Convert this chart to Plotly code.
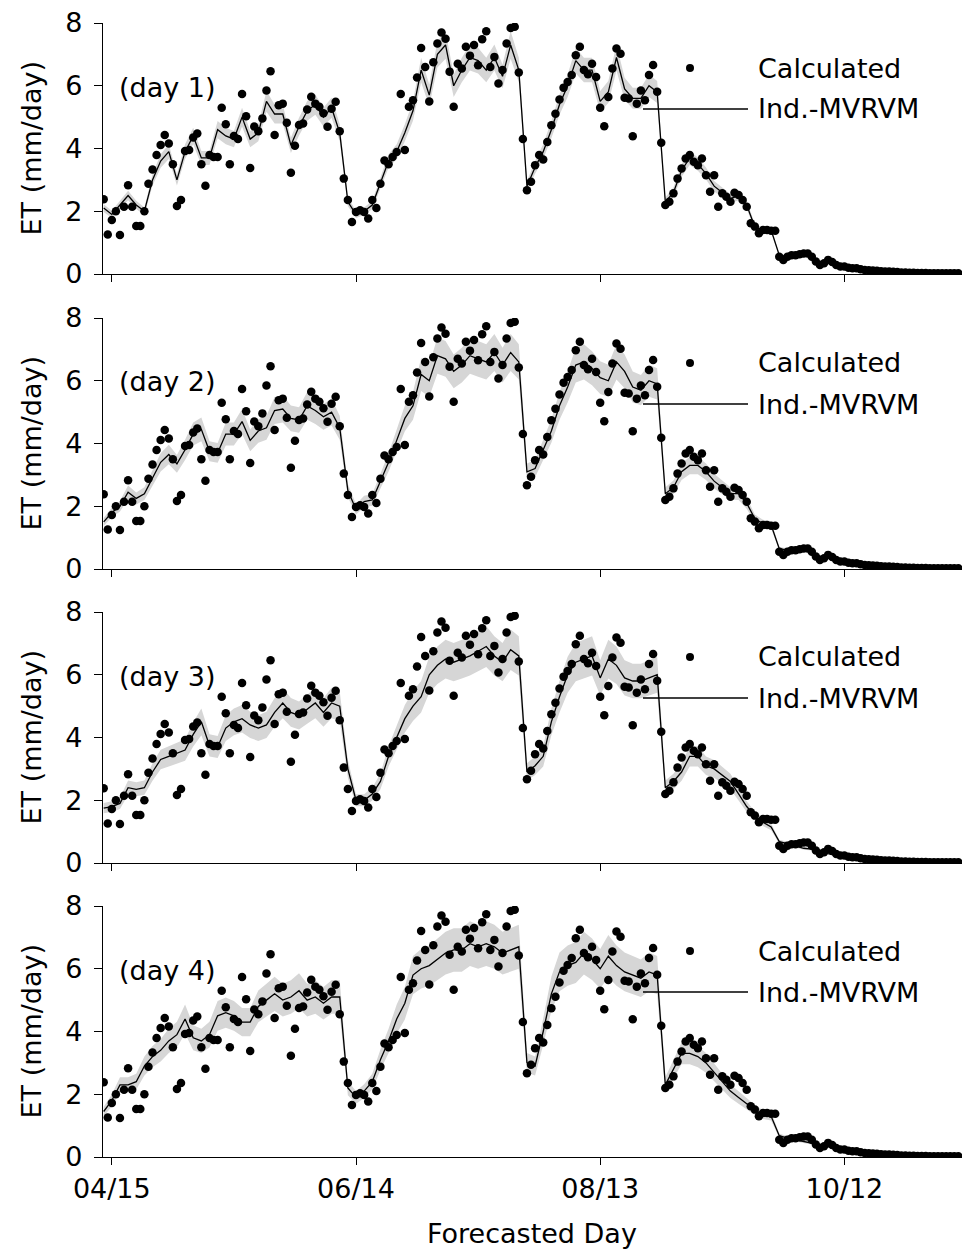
import numpy as np
import pandas as pd
import plotly.graph_objects as go

# ---------------- data ----------------
start_date = "2001-04-13"
tick_dates = ["2001-04-15", "2001-06-14", "2001-08-13", "2001-10-12"]
tick_labels = ["04/15", "06/14", "08/13", "10/12"]
y_ticks = [0, 2, 4, 6, 8]

# calculated ET (mm/day), one value per day from start_date
calculated = [
    2.38, 1.26, 1.72, 2.0, 1.24, 2.14, 2.83, 2.14, 1.53, 1.53,
    2.0, 2.88, 3.33, 3.79, 4.11, 4.43, 4.16, 3.5, 2.17, 2.36,
    3.92, 3.95, 4.35, 4.48, 3.5, 2.81, 3.79, 3.73, 3.73, 5.3,
    4.77, 3.5, 4.4, 4.3, 5.74, 5.03, 3.38, 4.7, 4.55, 4.96,
    5.85, 6.46, 4.43, 5.38, 5.43, 4.82, 3.23, 4.09, 4.75, 4.8,
    5.24, 5.65, 5.43, 5.33, 5.12, 4.69, 5.27, 5.49, 4.55, 3.04,
    2.36, 1.66, 1.98, 2.03, 1.98, 1.77, 2.36, 2.1, 2.88, 3.62,
    3.5, 3.73, 3.89, 5.74, 3.95, 5.33, 5.54, 6.26, 7.2, 6.6,
    5.5, 6.75, 7.35, 7.7, 7.5, 6.45, 5.33, 6.7, 6.55, 7.24,
    6.96, 7.3, 6.65, 7.48, 7.74, 6.6, 6.92, 6.07, 6.5, 7.35,
    7.84, 7.88, 6.42, 4.3, 2.67, 2.94, 3.47, 3.79, 3.65, 4.21,
    4.74, 5.11, 5.56, 5.94, 6.12, 6.34, 6.97, 7.24, 6.5, 6.37,
    6.7, 6.28, 5.3, 4.71, 5.64, 6.55, 7.19, 7.02, 5.62, 5.59,
    4.39, 5.43, 5.85, 5.54, 6.34, 6.66, 5.81, 4.18, 2.2, 2.3,
    2.57, 3.04, 3.36, 3.68, 3.79, 3.58, 3.47, 3.68, 3.15, 2.62,
    3.15, 2.14, 2.57, 2.46, 2.3, 2.59, 2.52, 2.36, 2.14, 1.62,
    1.51, 1.3, 1.4, 1.4, 1.38, 1.38, 0.55, 0.45, 0.55, 0.6,
    0.6, 0.63, 0.65, 0.65, 0.55, 0.4, 0.29, 0.34, 0.45, 0.38,
    0.29, 0.24, 0.24, 0.2, 0.18, 0.18, 0.15, 0.13, 0.12, 0.11,
    0.1, 0.09, 0.08, 0.08, 0.07, 0.06, 0.05, 0.05, 0.04, 0.04,
    0.03, 0.03, 0.03, 0.02, 0.02, 0.02, 0.02, 0.02, 0.02, 0.02,
    0.02,
]

# Ind.-MVRVM forecasts, one value every 2 days from start_date
pred_day1 = [
    2.1, 1.9, 2.2, 2.5, 2.2, 2.0, 3.0, 3.6, 3.9, 3.0,
    3.9, 4.4, 3.7, 3.7, 4.6, 4.4, 4.3, 5.0, 4.3, 4.5,
    5.5, 5.1, 5.1, 4.1, 4.7, 5.2, 5.4, 5.0, 5.3, 4.5,
    2.3, 1.9, 2.0, 2.2, 2.9, 3.6, 3.9, 4.5, 5.2, 6.5,
    5.7, 7.0, 7.3, 6.0, 6.5, 6.9, 6.8, 6.5, 6.9, 6.3,
    7.3, 6.5, 2.8, 3.4, 3.9, 4.6, 5.4, 6.0, 6.8, 6.5,
    6.5, 5.5, 5.8, 6.9, 5.9, 5.6, 5.6, 6.0, 5.8, 2.3,
    2.6, 3.3, 3.7, 3.5, 3.2, 2.8, 2.6, 2.4, 2.5, 2.2,
    1.5, 1.4, 1.4, 0.6, 0.55, 0.6, 0.65, 0.55, 0.35, 0.4,
    0.28, 0.24, 0.18, 0.15, 0.12, 0.1, 0.08, 0.07, 0.05, 0.04,
    0.03, 0.03, 0.02, 0.02, 0.02, 0.02,
]
pred_day2 = [
    1.5, 1.8, 2.0, 2.45, 2.25, 2.4, 2.9, 3.4, 3.65, 3.35,
    3.8, 4.3, 4.45, 3.75, 3.7, 4.3, 4.3, 4.7, 4.1, 4.4,
    4.5, 5.05, 5.1, 4.8, 4.75, 5.2, 5.05, 4.85, 5.0, 4.5,
    2.5, 1.9, 2.15, 2.2, 2.8, 3.4, 4.1, 4.8, 5.2, 6.2,
    6.0, 6.8, 6.7, 6.3, 6.5, 6.8, 6.7, 6.6, 6.9, 6.5,
    6.9, 6.6, 3.1, 3.2, 3.8, 4.4, 5.2, 5.8, 6.5, 6.6,
    6.4, 6.1, 6.0, 6.6, 6.3, 5.8, 5.7, 6.0, 5.9, 2.4,
    2.6, 3.1, 3.3, 3.3, 3.1, 2.8, 2.6, 2.4, 2.4, 2.1,
    1.6, 1.45, 1.4, 0.65, 0.6, 0.62, 0.63, 0.55, 0.4, 0.38,
    0.3, 0.24, 0.2, 0.16, 0.13, 0.11, 0.09, 0.07, 0.06, 0.05,
    0.04, 0.03, 0.03, 0.02, 0.02, 0.02,
]
pred_day3 = [
    1.75, 1.8, 1.9, 2.4, 2.35, 2.4, 2.9, 3.3, 3.4, 3.5,
    3.6, 4.1, 4.5, 3.75, 3.7, 4.3, 4.5, 4.6, 4.4, 4.3,
    4.4, 4.8, 5.1, 4.8, 4.7, 4.9, 5.1, 4.8, 5.1, 5.0,
    3.0, 2.0, 2.0, 2.2, 2.6, 3.4, 4.0, 4.6, 5.0, 5.3,
    6.0, 6.3, 6.5, 6.4, 6.5, 6.6, 6.75, 6.9, 6.6, 6.4,
    6.8, 6.6, 2.9, 3.1, 3.4, 4.5, 5.3, 6.0, 6.4, 6.5,
    6.6, 5.9, 6.5, 6.3, 5.9, 5.8, 5.8, 5.9, 6.0, 2.4,
    2.6, 2.9, 3.4, 3.4, 3.1, 3.0, 2.8, 2.6, 2.2, 1.8,
    1.5, 1.3, 1.15, 0.68, 0.62, 0.55, 0.47, 0.44, 0.4, 0.3,
    0.25, 0.18, 0.14, 0.12, 0.1, 0.08, 0.07, 0.06, 0.05, 0.04,
    0.03, 0.03, 0.02, 0.02, 0.02, 0.02,
]
pred_day4 = [
    1.45, 1.8, 2.3, 2.3, 2.4, 2.9, 3.2, 3.4, 3.7, 3.9,
    4.4, 3.8, 3.7, 3.9, 4.5, 4.6, 4.5, 4.3, 4.3, 4.8,
    5.0, 5.2, 5.0, 5.1, 5.3, 5.0, 5.1, 4.9, 5.1, 5.1,
    2.2, 1.9, 2.1, 2.4, 3.1, 3.7, 4.4, 4.9, 5.8, 6.0,
    6.1, 6.3, 6.5, 6.6, 6.6, 6.8, 6.7, 6.8, 6.7, 6.5,
    6.6, 6.7, 3.0, 2.9, 4.0, 5.2, 5.9, 6.1, 6.2, 6.5,
    6.3, 6.0, 6.4, 6.1, 5.9, 5.8, 5.7, 5.9, 5.8, 2.3,
    2.8, 3.3, 3.3, 3.2, 3.0, 2.7, 2.4, 2.1, 1.9, 1.7,
    1.5, 1.35, 1.3, 0.68, 0.6, 0.55, 0.49, 0.44, 0.38, 0.33,
    0.28, 0.22, 0.17, 0.14, 0.12, 0.09, 0.07, 0.06, 0.05, 0.04,
    0.03, 0.03, 0.02, 0.02, 0.02, 0.02,
]
predictions = [pred_day1, pred_day2, pred_day3, pred_day4]
panel_labels = ["(day 1)", "(day 2)", "(day 3)", "(day 4)"]
# relative half-width of the uncertainty band for each forecast horizon
band_rel = [0.06, 0.085, 0.095, 0.105]

# ---------------- layout geometry (pixels) ----------------
W, H = 962, 1251
FONT = "DejaVu Sans"
FS = 27
panel_top = [23, 318, 612, 906]
panel_bot = [274, 569, 863, 1157]
x_left = 103


def py(p):
    return 1 - p / H


def px(p):
    return p / W


base = pd.Timestamp(start_date)
obs_dates = base + pd.to_timedelta(np.arange(len(calculated)), unit="D")

fig = go.Figure()
for k in range(4):
    pred = np.array(predictions[k])
    pdates = base + pd.to_timedelta(np.arange(len(pred)) * 2, unit="D")
    hw = pred * band_rel[k]
    xa = "x" if k == 0 else f"x{k+1}"
    ya = "y" if k == 0 else f"y{k+1}"
    fig.add_trace(go.Scatter(x=pdates, y=pred + hw, mode="lines",
                             line=dict(width=0, color="rgba(0,0,0,0)"),
                             showlegend=False, hoverinfo="skip", xaxis=xa, yaxis=ya))
    fig.add_trace(go.Scatter(x=pdates, y=np.clip(pred - hw, 0, None), mode="lines",
                             line=dict(width=0, color="rgba(0,0,0,0)"),
                             fill="tonexty", fillcolor="rgb(214,214,214)",
                             showlegend=False, hoverinfo="skip", xaxis=xa, yaxis=ya))
    fig.add_trace(go.Scatter(x=pdates, y=pred, mode="lines",
                             line=dict(color="black", width=1.3),
                             name="Ind.-MVRVM", showlegend=False, xaxis=xa, yaxis=ya))
    fig.add_trace(go.Scatter(x=obs_dates, y=calculated, mode="markers",
                             marker=dict(color="black", size=8.5),
                             name="Calculated", showlegend=False, xaxis=xa, yaxis=ya))

x_range = [base - pd.Timedelta(hours=4), base + pd.Timedelta(days=210.9)]

layout = dict(
    template="none",
    width=W, height=H,
    margin=dict(l=0, r=0, t=0, b=0, autoexpand=False),
    paper_bgcolor="white", plot_bgcolor="white",
    font=dict(family=FONT, size=FS, color="black"),
    showlegend=False,
)
annotations = []
shapes = []
for k in range(4):
    sx = "" if k == 0 else str(k + 1)
    layout[f"xaxis{sx}"] = dict(
        domain=[px(x_left), 1], range=x_range, anchor=f"y{sx}",
        tickvals=tick_dates, ticktext=tick_labels, showticklabels=(k == 3),
        ticks="outside", ticklen=7, tickwidth=1.3, tickcolor="black",
        showline=True, linecolor="black", linewidth=1.3,
        showgrid=False, zeroline=False, automargin=False,
        tickfont=dict(family=FONT, size=FS, color="black"),
    )
    layout[f"yaxis{sx}"] = dict(
        domain=[py(panel_bot[k]), py(panel_top[k])], range=[0, 8], anchor=f"x{sx}",
        tickvals=y_ticks, ticks="outside", ticklen=8, tickwidth=1.3, tickcolor="black",
        showline=True, linecolor="black", linewidth=1.3,
        showgrid=False, zeroline=False, automargin=False, ticklabelstandoff=6,
        tickfont=dict(family=FONT, size=FS, color="black"),
    )
    t = panel_top[k]
    annotations.append(dict(text="ET (mm/day)", x=px(31), y=py((panel_top[k] + panel_bot[k]) / 2),
                            xref="paper", yref="paper", textangle=-90, showarrow=False,
                            xanchor="center", yanchor="middle", font=dict(size=FS)))
    annotations.append(dict(text=panel_labels[k], x=px(117), y=py(t + 64),
                            xref="paper", yref="paper", showarrow=False,
                            xanchor="left", yanchor="middle", font=dict(size=FS)))
    annotations.append(dict(text="Calculated", x=px(756), y=py(t + 45),
                            xref="paper", yref="paper", showarrow=False,
                            xanchor="left", yanchor="middle", font=dict(size=FS)))
    annotations.append(dict(text="Ind.-MVRVM", x=px(756), y=py(t + 86),
                            xref="paper", yref="paper", showarrow=False,
                            xanchor="left", yanchor="middle", font=dict(size=FS)))
    shapes.append(dict(type="line", xref="paper", yref="paper",
                       x0=px(643), x1=px(748), y0=py(t + 86), y1=py(t + 86),
                       line=dict(color="black", width=1.3)))
    shapes.append(dict(type="circle", xref="paper", yref="paper",
                       x0=px(686), x1=px(694), y0=py(t + 49), y1=py(t + 41),
                       fillcolor="black", line=dict(color="black", width=0)))

annotations.append(dict(text="Forecasted Day", x=px(532), y=py(1233),
                        xref="paper", yref="paper", showarrow=False,
                        xanchor="center", yanchor="middle", font=dict(size=FS)))
layout["annotations"] = annotations
layout["shapes"] = shapes
fig.update_layout(**layout)
fig.write_html("out.html")
